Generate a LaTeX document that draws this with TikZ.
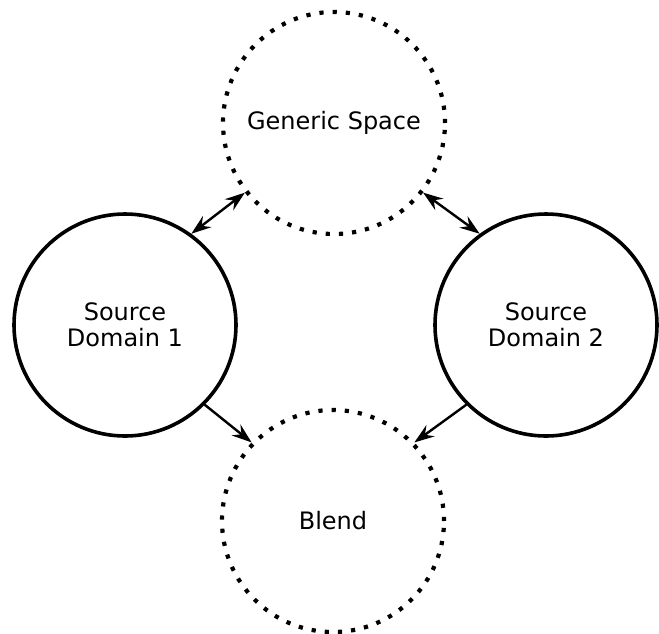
\documentclass[tikz,border=0pt]{standalone}
\usepackage{fontspec}
\setmainfont{DejaVu Sans}
\usetikzlibrary{arrows.meta}

\begin{document}
\begin{tikzpicture}[x=1pt,y=-1pt]
	\tikzstyle{every node}=[circle,minimum size=222pt,inner sep=0pt,align=center,
		font=\fontsize{24}{26}\selectfont]
	\tikzstyle{domaincircle}=[draw,line width=3.6pt]
	\tikzstyle{spacecircle}=[draw,line width=4.2pt,dash pattern=on 4.2pt off 9pt]
	\tikzstyle{linkarrow}=[line width=2.4pt,-{Stealth[length=20pt,width=14pt,inset=7pt]}]
	\tikzstyle{bothways}=[{Stealth[length=20pt,width=14pt,inset=7pt]}-{Stealth[length=20pt,width=14pt,inset=7pt]}]
	\useasboundingbox (0,0) rectangle (659,633);
	\node[spacecircle] (gen) at (334,123) {Generic Space};
	\node[domaincircle] (src1) at (125,325) {Source\\Domain 1};
	\node[domaincircle] (src2) at (546,325) {Source\\Domain 2};
	\node[spacecircle] (blend) at (333,521) {Blend};
	% links to the generic space
	\draw[linkarrow,bothways] (src1.54) -- (gen.218);
	\draw[linkarrow,bothways] (src2.126) -- (gen.322);
	% projections into the blend
	\draw[linkarrow] (src1.-45) -- (blend.136);
	\draw[linkarrow] (src2.225) -- (blend.44);
\end{tikzpicture}
\end{document}
